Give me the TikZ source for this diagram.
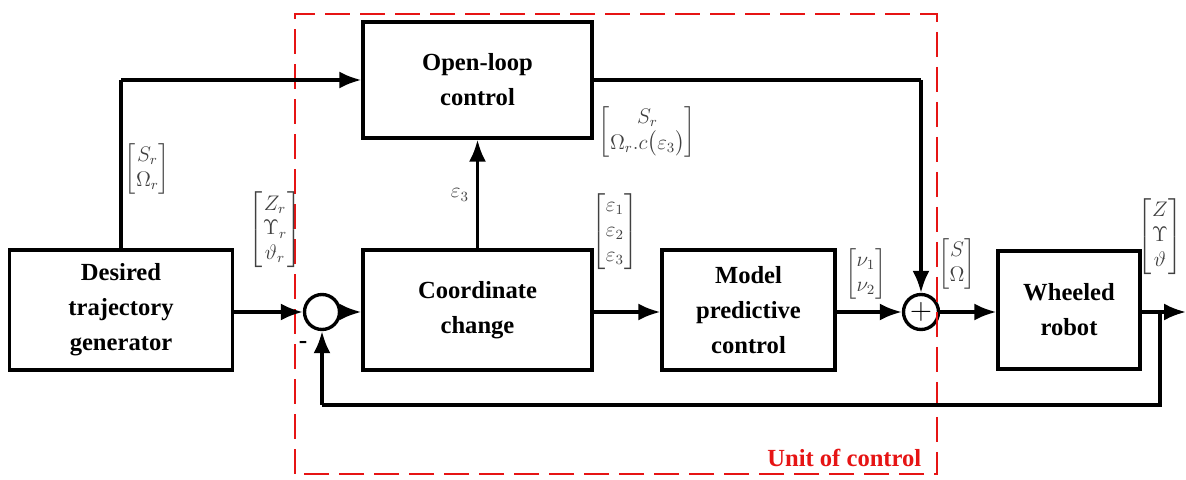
\documentclass[tikz,border=0pt]{standalone}
\usepackage{amsmath}
\usepackage{fontspec}
\setmainfont{Liberation Serif}
\usetikzlibrary{arrows.meta}
\definecolor{unitred}{RGB}{230,20,20}
\tikzset{
  blk/.style={draw, line width=1.9pt, align=center, font=\fontsize{14}{20}\selectfont\bfseries},
  sumnode/.style={draw, circle, line width=1.9pt, minimum size=0.7cm, inner sep=0pt},
  sig/.style={text=black!75, font=\large, inner sep=1pt},
  wire/.style={line width=1.9pt},
  arr/.style={line width=1.9pt, -{Latex[length=4.4mm,width=3.4mm]}}
}
\begin{document}
\begin{tikzpicture}
\useasboundingbox (0,0) rectangle (23.72,9.58);
\node[blk, minimum width=4.46cm, minimum height=2.4cm] (gen) at (2.42,3.38) {Desired\\trajectory\\generator};
\node[blk, minimum width=4.58cm, minimum height=2.32cm] (open) at (9.55,7.98) {Open-loop\\control};
\node[blk, minimum width=4.58cm, minimum height=2.4cm] (coord) at (9.55,3.38) {Coordinate\\change};
\node[blk, minimum width=3.46cm, minimum height=2.4cm] (mpc) at (14.97,3.38) {Model\\predictive\\control};
\node[blk, minimum width=2.84cm, minimum height=2.36cm] (robot) at (21.38,3.38) {Wheeled\\robot};
\node[sumnode] (s1) at (6.44,3.34) {};
\node[sumnode, font=\LARGE] (s2) at (18.42,3.34) {$+$};
\coordinate (top) at (2.42,7.98);
\coordinate (tr) at (18.42,7.98);
\coordinate (out) at (23.72,3.34);
\coordinate (fb) at (23.2,3.34);
\coordinate (fbr) at (23.2,1.48);
\coordinate (fbl) at (6.44,1.48);

\draw[unitred, line width=1.2pt, dash pattern=on 0.5cm off 0.2cm] (5.9,0.1) rectangle (18.74,9.3);
\node[unitred, anchor=south east, font=\fontsize{14}{16}\selectfont\bfseries] (unit) at (18.55,0.12) {Unit of control};

\path[draw,wire] (gen.north) -- (top);
\path[draw,arr] (top) -- (open.west);
\path[draw,arr] (gen.east |- s1) -- (s1);
\path[draw,arr] (s1) -- (coord.west |- s1);
\path[draw,arr] (coord) ++(0,1.2) -- (open.south);
\path[draw,arr] (coord.east |- s1) -- (mpc.west |- s1);
\path[draw,arr] (mpc.east |- s2) -- (s2);
\path[draw,wire] (open.east) -- (tr);
\path[draw,arr] (tr) -- (s2);
\path[draw,arr] (s2) -- (robot.west |- s2);
\path[draw,arr] (robot.east |- out) -- (out);
\path[draw,wire] (fb) -- (fbr) -- (fbl);
\path[draw,arr] (fbl) -- (s1);

\node[sig] (lsr) at (2.95,6.2) {$\begin{bmatrix} S_r\\ \Omega_r\end{bmatrix}$};
\node[sig] (lzr) at (5.5,4.98) {$\begin{bmatrix} Z_r\\ \Upsilon_r\\ \vartheta_r\end{bmatrix}$};
\node[sig] (lol) at (12.95,6.95) {$\begin{bmatrix} S_r\\ \Omega_r.c\bigl(\varepsilon_3\bigr)\end{bmatrix}$};
\node[sig] (leps) at (12.3,4.95) {$\begin{bmatrix} \varepsilon_1\\ \varepsilon_2\\ \varepsilon_3\end{bmatrix}$};
\node[sig] (lnu) at (17.32,4.1) {$\begin{bmatrix} \nu_1\\ \nu_2\end{bmatrix}$};
\node[sig] (lso) at (19.14,4.3) {$\begin{bmatrix} S\\ \Omega\end{bmatrix}$};
\node[sig] (lz) at (23.2,4.85) {$\begin{bmatrix} Z\\ \Upsilon\\ \vartheta\end{bmatrix}$};
\node[sig] (le3) at (9.2,5.68) {$\varepsilon_3$};
\node[font=\bfseries\Large] (minus) at (6.06,2.68) {-};
\end{tikzpicture}
\end{document}
